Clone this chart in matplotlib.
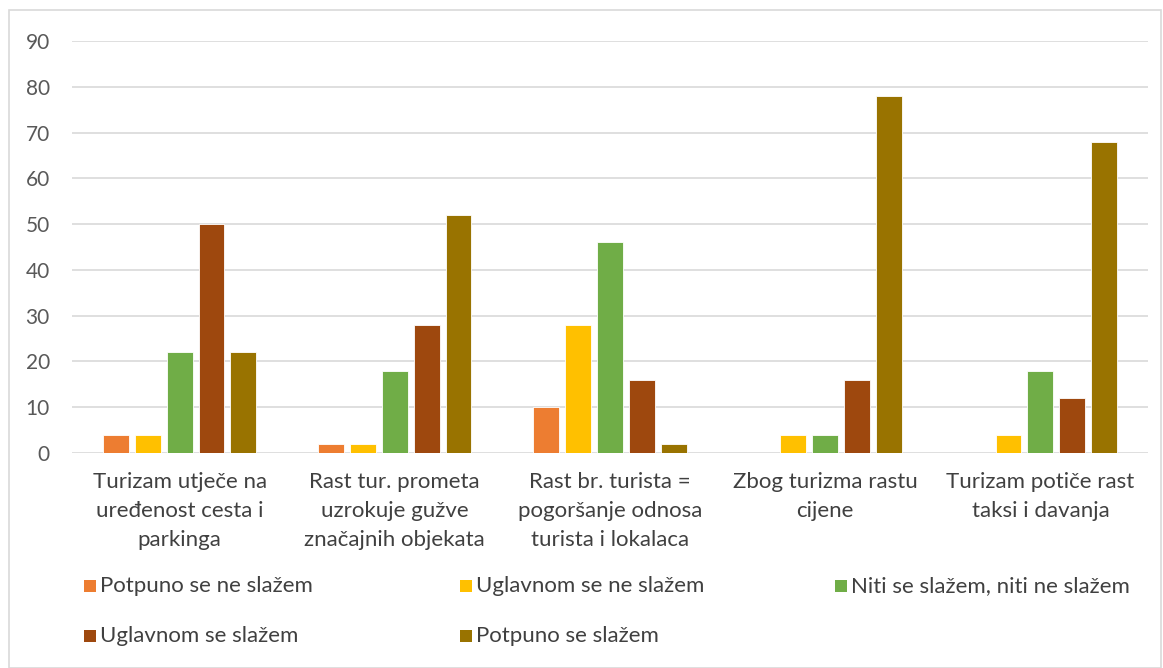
import matplotlib
matplotlib.use("Agg")
import matplotlib.pyplot as plt
from matplotlib.patches import Rectangle
import numpy as np

plt.rcParams['font.family'] = ['Lato', 'DejaVu Sans']

categories = ["Turizam utječe na\nuređenost cesta i\nparkinga",
              "Rast tur. prometa\nuzrokuje gužve\nznačajnih objekata",
              "Rast br. turista =\npogoršanje odnosa\nturista i lokalaca",
              "Zbog turizma rastu\ncijene",
              "Turizam potiče rast\ntaksi i davanja"]
series_names = ["Potpuno se ne slažem", "Uglavnom se ne slažem",
                "Niti se slažem, niti ne slažem", "Uglavnom se slažem",
                "Potpuno se slažem"]
potpuno_ne = [4, 2, 10, 0, 0]
uglavnom_ne = [4, 2, 28, 4, 4]
niti = [22, 18, 46, 4, 18]
uglavnom_da = [50, 28, 16, 16, 12]
potpuno_da = [22, 52, 2, 78, 68]
series = [potpuno_ne, uglavnom_ne, niti, uglavnom_da, potpuno_da]
colors = ["#ED7D31", "#FFC000", "#70AD47", "#9E480E", "#997300"]
yticks = [0, 10, 20, 30, 40, 50, 60, 70, 80, 90]

W, H = 1163, 668
fig = plt.figure(figsize=(W/100, H/100), dpi=100)
ax = fig.add_axes([72/W, 1-453/H, (1148-72)/W, (453-41)/H])

x = np.arange(len(categories))
slot = 0.148
bw = 0.12
for i, (vals, c) in enumerate(zip(series, colors)):
    ax.bar(x + (i-2)*slot, vals, width=bw, color=c, edgecolor='white', linewidth=0.6, zorder=3)

ax.set_xlim(-0.5, len(categories)-0.5)
ax.set_ylim(0, 90)
ax.set_yticks(yticks)
ax.set_yticklabels([str(t) for t in yticks], fontsize=15, color="#595959")
ax.set_xticks(x)
ax.set_xticklabels(categories, fontsize=16, color="#404040", linespacing=1.55, va='top')
ax.tick_params(axis='both', length=0)
ax.tick_params(axis='y', pad=16)
ax.tick_params(axis='x', pad=14)
ax.grid(axis='y', color="#D9D9D9", linewidth=1.2, zorder=0)
for s in ax.spines.values():
    s.set_visible(False)

# legend
leg_x = [84, 460, 835]
leg_y = [586, 636]
for i, (name, c) in enumerate(zip(series_names, colors)):
    r, col = divmod(i, 3)
    px, py = leg_x[col], leg_y[r]
    fig.patches.append(Rectangle((px/W, 1-(py+6)/H), 12/W, 12/H, transform=fig.transFigure,
                                 facecolor=c, edgecolor='none'))
    fig.text((px+16)/W, 1-py/H, name, fontsize=16, color="#404040", va='center', ha='left')

fig.patches.append(Rectangle((9/W, 0), (1161-9)/W, 1-10/H, transform=fig.transFigure,
                             facecolor='none', edgecolor="#D9D9D9", linewidth=1.2))

fig.savefig("out.png", dpi=100)
